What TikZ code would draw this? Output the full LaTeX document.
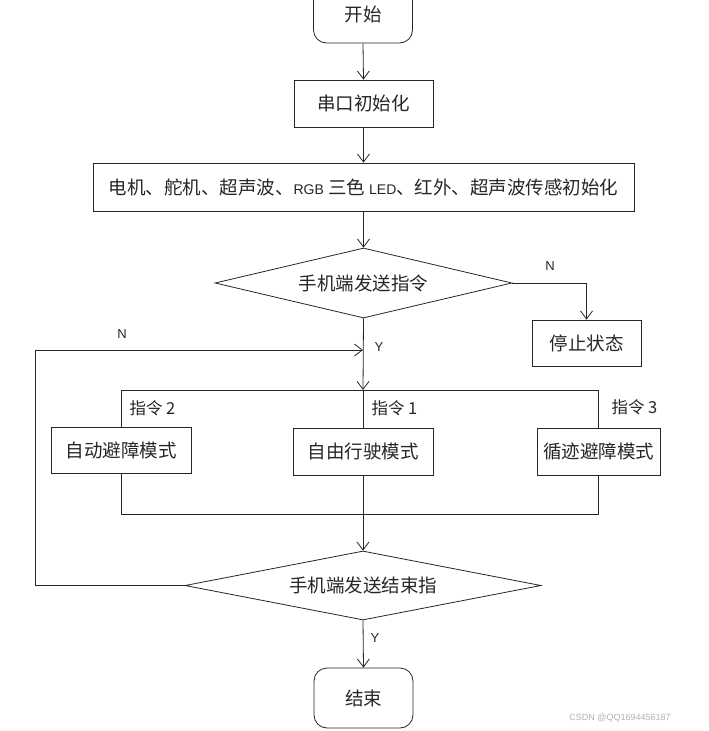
\documentclass[tikz,border=0pt]{standalone}
\usepackage{fontspec}
\setmainfont{Noto Sans CJK SC}
\newfontfamily\latinfont{Liberation Sans}
\usetikzlibrary{shapes.geometric,arrows.meta}
\tikzset{
  base/.style={draw=black!85, line width=0.8pt, inner sep=0pt, font=\fontsize{18.5}{18.5}\selectfont, text=black!85},
  procbox/.style={base, rectangle},
  termbox/.style={base, rectangle, rounded corners=13pt},
  decbox/.style={base, diamond},
  conn/.style={draw=black!85, line width=0.8pt},
  arr/.style={conn, -{Straight Barb[length=8pt,width=12pt,line width=0.8pt]}},
  yn/.style={font=\latinfont\fontsize{13}{13}\selectfont, text=black!85},
  cmd/.style={font=\fontsize{16.5}{16.5}\selectfont, text=black!85, anchor=west},
}
\begin{document}
\begin{tikzpicture}[x=1pt,y=-1pt]
\useasboundingbox (0,0) rectangle (709,731);
\fill[white] (0,0) rectangle (709,731);
% nodes
\node[termbox, minimum width=99pt, minimum height=58pt] (start) at (363,14) {开始};
\node[procbox, minimum width=139pt, minimum height=47pt] (uart) at (363.5,103.5) {串口初始化};
\node[procbox, minimum width=541pt, minimum height=48pt] (init) at (363.5,187) {电机、舵机、超声波、{\latinfont\fontsize{14}{14}\selectfont RGB} 三色 {\latinfont\fontsize{14}{14}\selectfont LED}、红外、超声波传感初始化};
\node[decbox, aspect=4.24, minimum width=297pt, minimum height=70pt] (cmd) at (363.5,283) {手机端发送指令};
\node[procbox, minimum width=109pt, minimum height=46pt] (stop) at (586.5,343) {停止状态};
\coordinate (merge) at (363,350);
\coordinate (split) at (363,390);
\node[procbox, minimum width=140pt, minimum height=46pt] (auto) at (121,450) {自动避障模式};
\node[procbox, minimum width=140pt, minimum height=47pt] (free) at (363,451.5) {自由行驶模式};
\node[procbox, minimum width=123pt, minimum height=47pt] (track) at (598.5,451.5) {循迹避障模式};
\coordinate (join) at (363,514);
\node[decbox, aspect=5.16, minimum width=356pt, minimum height=69pt] (endq) at (363,585.5) {手机端发送结束指};
\node[termbox, minimum width=99pt, minimum height=60pt] (stopend) at (363.5,698) {结束};
% connectors
\draw[arr] (start.south) -- (uart.north);
\draw[arr] (uart.south) -- (init.north);
\draw[arr] (init.south) -- (cmd.north);
\draw[arr] (cmd.east) -| (stop.north);
\draw[arr] (cmd.south) -- (split);
\draw[conn] (split -| auto.north) -- (split -| track.north);
\draw[conn] (split -| auto.north) -- (auto.north);
\draw[conn] (split) -- (free.north);
\draw[conn] (split -| track.north) -- (track.north);
\draw[conn] (auto.south) -- (join -| auto.south) -- (join -| track.south) -- (track.south);
\draw[conn] (free.south) -- (join);
\draw[arr] (join) -- (endq.north);
\draw[arr] (endq.west) -- (35,585.5) -- (35,350) -- (merge);
\draw[arr] (endq.south) -- (stopend.north);
% labels
\node[yn] (lN1) at (550,266) {N};
\node[yn] (lY1) at (379,347) {Y};
\node[yn] (lN2) at (122,334) {N};
\node[yn] (lY2) at (375,638) {Y};
\node[cmd] (c2) at (126,408) {指令 2};
\node[cmd] (c1) at (368,408) {指令 1};
\node[cmd] (c3) at (608,407) {指令 3};
\node[font=\latinfont\fontsize{9}{9}\selectfont, text=black!30] (wm) at (620,718) {CSDN @QQ1694456187};
\end{tikzpicture}
\end{document}
